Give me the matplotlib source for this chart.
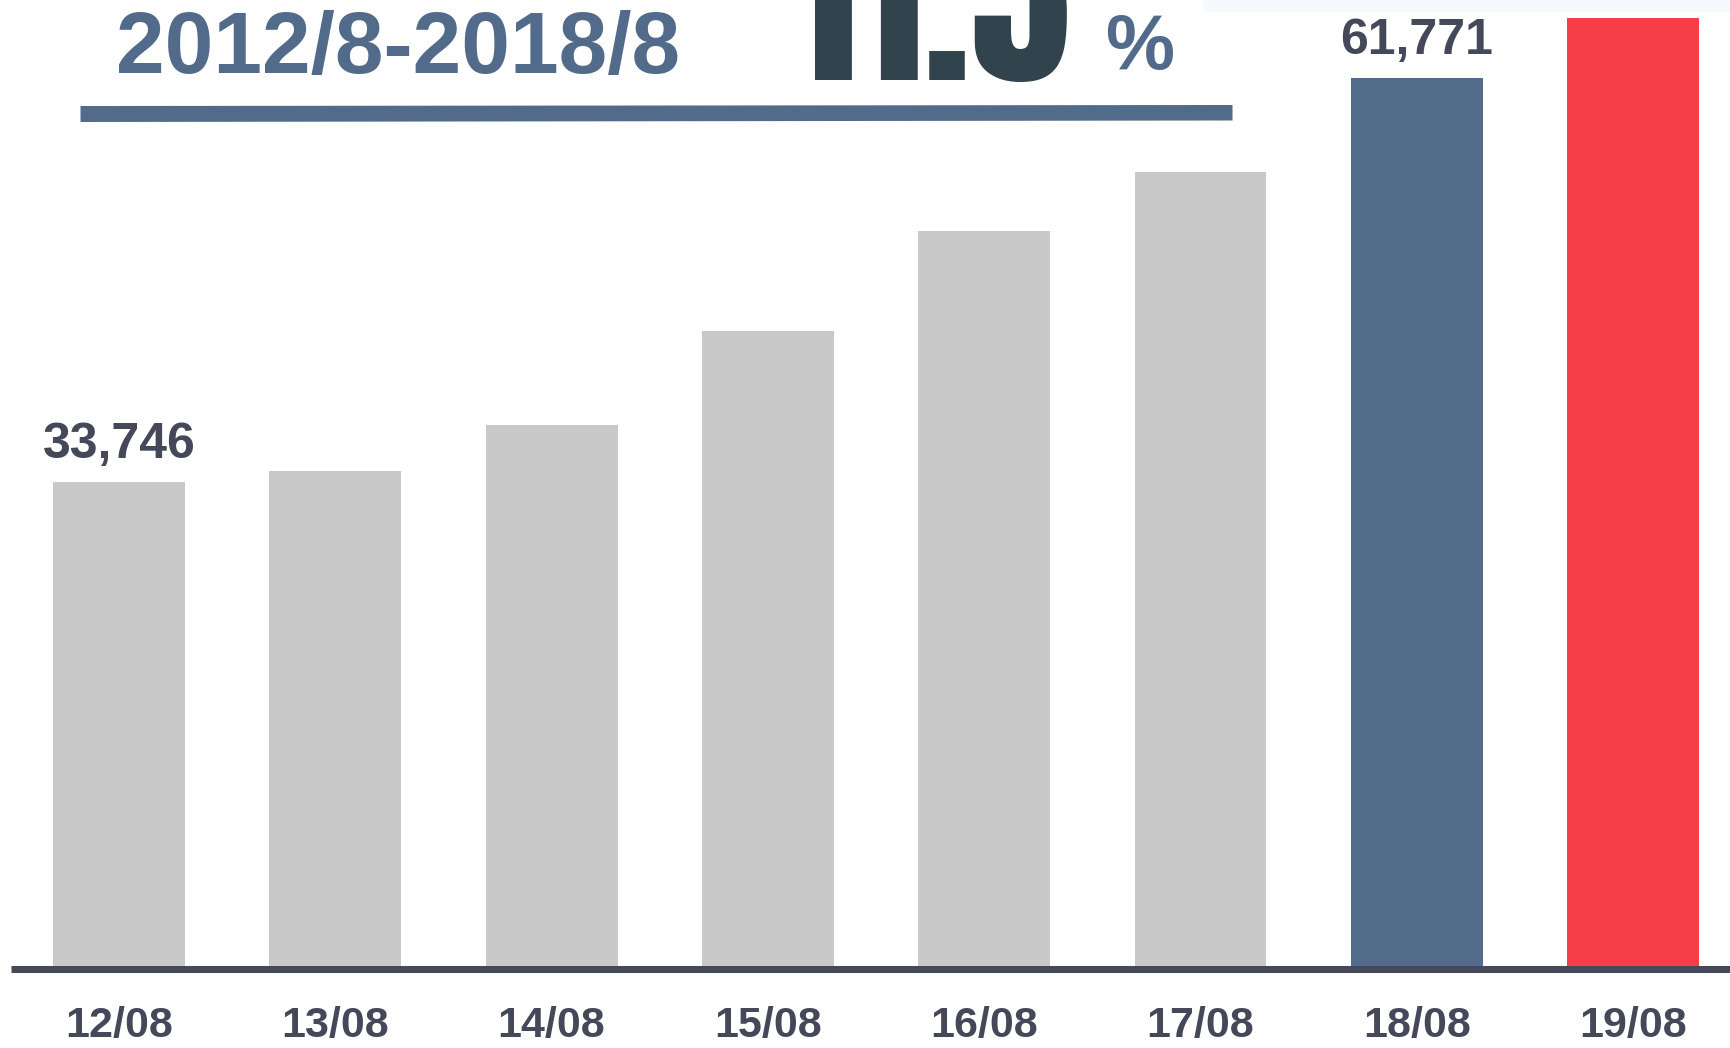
import matplotlib
matplotlib.use("Agg")
import matplotlib.pyplot as plt
from matplotlib.patches import Polygon, Rectangle
from matplotlib.lines import Line2D

# ---------------- data ----------------
categories = ['12/08', '13/08', '14/08', '15/08', '16/08', '17/08', '18/08', '19/08']
values = [33746, 34510, 37715, 44222, 51186, 55244, 61771, 65961]
bar_colors = ['#c8c8c8', '#c8c8c8', '#c8c8c8', '#c8c8c8', '#c8c8c8', '#c8c8c8', '#536b8b', '#f53e45']
labeled = [0, 6, 7]
title_text = '2012/8-2018/8'
big_number = '11.5'
pct_text = '%'

W, H = 1730, 1048
fig = plt.figure(figsize=(W / 100, H / 100), dpi=100)
fig.patch.set_facecolor('white')


def fx(x):
    return x / W


def fy(y):
    return 1 - y / H


# top-right faint band
fig.patches.append(Rectangle((fx(1203), fy(12)), fx(W) - fx(1203), fy(0) - fy(12),
                             transform=fig.transFigure, facecolor='#f6f9fd',
                             edgecolor='none', zorder=0))

ax = fig.add_axes([0, 0, 1, 1])
ax.set_facecolor('none')
ax.axis('off')
x = list(range(len(categories)))
bars = ax.bar(x, values, width=0.61, color=bar_colors, zorder=2)
ax.set_xlim(-0.5502, 7.448)
ax.set_ylim(-5515, 67183)

LAB = '#454859'
for i in labeled:
    ax.annotate(f'{values[i]:,}', (x[i], values[i]), xytext=(0, 17.3),
                textcoords='offset points', ha='center', va='baseline',
                fontsize=36, fontweight='bold', color=LAB,
                family=['Liberation Sans', 'DejaVu Sans'], zorder=3,
                annotation_clip=False)

# axis line
fig.add_artist(Line2D([fx(11), fx(W)], [fy(968.5), fy(968.5)], transform=fig.transFigure,
                      color=LAB, linewidth=5.04, solid_capstyle='butt', zorder=4))

# tick labels
for i, c in enumerate(categories):
    xp = 119 + 216.3 * i
    fig.text(fx(xp), fy(1036.7), c, ha='center', va='baseline', fontsize=31,
             fontweight='bold', color=LAB, family=['Liberation Sans', 'DejaVu Sans'])

# header
BLUE = '#536b8b'
fig.text(fx(398.5), fy(73), title_text, ha='center', va='baseline', fontsize=63,
         fontweight='bold', color=BLUE, family=['Liberation Sans', 'DejaVu Sans'])
fig.text(fx(791), fy(80), big_number, ha='left', va='baseline', fontsize=146,
         color='#31434d', family=['Anton', 'Oswald', 'Liberation Sans'])
fig.text(fx(1140), fy(69), pct_text, ha='center', va='baseline', fontsize=56,
         fontweight='bold', color=BLUE, family=['Liberation Sans', 'DejaVu Sans'])

# underline bar (slightly tapered)
fig.patches.append(Polygon([(fx(80.5), fy(106)), (fx(1232.5), fy(105)),
                            (fx(1232.5), fy(120.5)), (fx(80.5), fy(122))],
                           closed=True, transform=fig.transFigure,
                           facecolor=BLUE, edgecolor='none', zorder=1))

fig.savefig('out.png', dpi=100, facecolor='white')
